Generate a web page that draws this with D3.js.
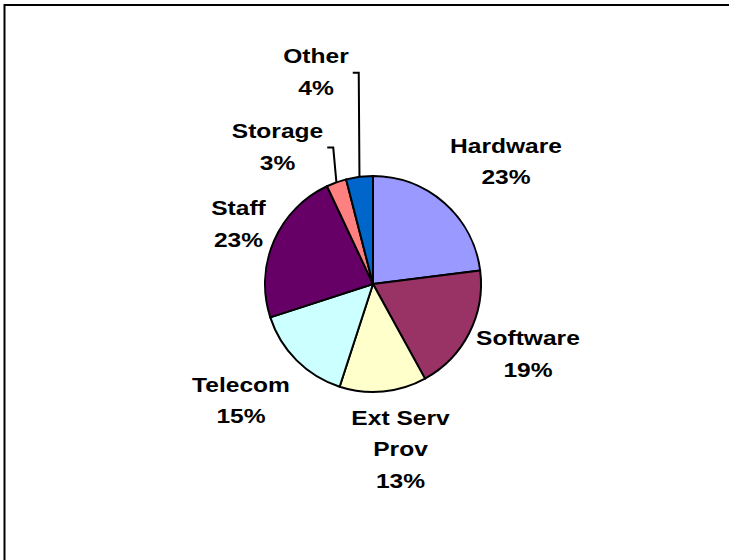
<!DOCTYPE html>
<html>
<head>
<meta charset="utf-8">
<script src="https://cdn.jsdelivr.net/npm/d3@7"></script>
<style>
  html, body { margin: 0; padding: 0; background: #fff; }
  svg { display: block; }
</style>
</head>
<body>
<script>
// IT budget breakdown by category (percent of total)
const categories = ["Hardware", "Software", "Ext Serv Prov", "Telecom", "Staff", "Storage", "Other"];
const shares = [23, 19, 13, 15, 23, 3, 4];
const labelLines = [["Hardware"], ["Software"], ["Ext Serv", "Prov"], ["Telecom"], ["Staff"], ["Storage"], ["Other"]];
const sliceColors = ["#9999FF", "#993366", "#FFFFCC", "#CCFFFF", "#660066", "#FF8080", "#0066CC"];

// label placement tweaks (dx, dy from the polar default) and which labels get leader lines
const labelNudge = {
  "Hardware": [20.6, 4.5],
  "Software": [3.5, -7.5],
  "Ext Serv Prov": [11.5, -4.3],
  "Telecom": [-11.8, -4.4],
  "Staff": [21.5, 6.8],
  "Storage": [-37.9, 22.5],
  "Other": [-35.7, -43.6]
};
const withLeader = new Set(["Storage", "Other"]);

const W = 729, H = 560;
const cx = 373, cy = 284, R = 108, labelR = 170;
const fontSize = 21, stretch = 1.17, lineGap = 31.5, capH = 15;

const svg = d3.select("body").append("svg")
  .attr("width", W).attr("height", H);

// chart area frame
svg.append("rect")
  .attr("x", 4.5).attr("y", 5)
  .attr("width", 900).attr("height", 800)
  .attr("fill", "none").attr("stroke", "#000").attr("stroke-width", 2);

const data = categories.map((c, i) => ({ name: c, value: shares[i], lines: labelLines[i].concat([shares[i] + "%"]), color: sliceColors[i] }));

const pie = d3.pie().sort(null).value(d => d.value);
const arcs = pie(data);
const arc = d3.arc().innerRadius(0).outerRadius(R);

const g = svg.append("g").attr("transform", `translate(${cx},${cy})`);
g.selectAll("path.slice").data(arcs).join("path")
  .attr("class", "slice")
  .attr("d", arc)
  .attr("fill", d => d.data.color)
  .attr("stroke", "#000")
  .attr("stroke-width", 2)
  .attr("stroke-linejoin", "round");

// labels
const labels = svg.append("g");
arcs.forEach(a => {
  const mid = (a.startAngle + a.endAngle) / 2;
  const nudge = labelNudge[a.data.name];
  const bx = cx + labelR * Math.sin(mid) + nudge[0];
  const by = cy - labelR * Math.cos(mid) + nudge[1];
  const n = a.data.lines.length;
  const firstBase = by - (n - 1) * lineGap / 2 + capH / 2;

  const t = labels.append("g")
    .attr("transform", `translate(${bx},0) scale(${stretch},1)`);
  const text = t.append("text")
    .attr("text-anchor", "middle")
    .attr("font-family", "'Liberation Sans', Arial, sans-serif")
    .attr("font-weight", "bold")
    .attr("font-size", fontSize)
    .attr("fill", "#000");
  a.data.lines.forEach((ln, i) => {
    text.append("tspan").attr("x", 0).attr("y", firstBase + i * lineGap).text(ln);
  });

  if (withLeader.has(a.data.name)) {
    let maxW = 0;
    text.selectAll("tspan").each(function () { maxW = Math.max(maxW, this.getComputedTextLength()); });
    const right = bx + maxW * stretch / 2;
    const edge = [cx + R * Math.sin(mid), cy - R * Math.cos(mid)];
    const pts = [[right + 4, by + 1], [right + 10, by + 1], edge];
    svg.append("path")
      .attr("d", d3.line()(pts))
      .attr("fill", "none")
      .attr("stroke", "#000")
      .attr("stroke-width", 2);
  }
});
</script>
</body>
</html>
